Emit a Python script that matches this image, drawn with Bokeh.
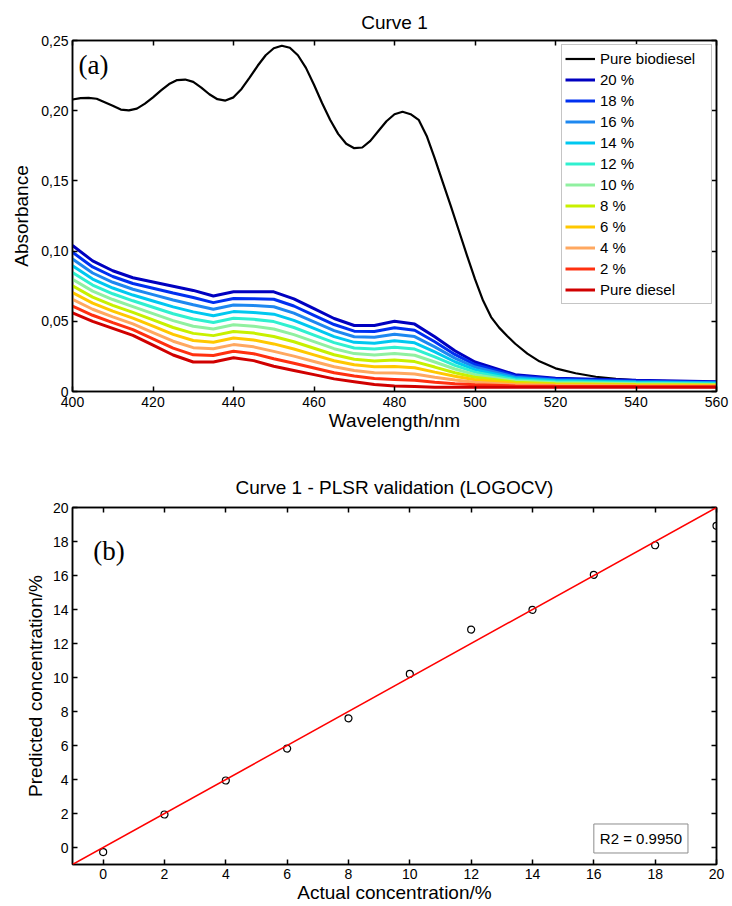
from bokeh.plotting import figure
from bokeh.models import LinearAxis, FixedTicker, Label, Slope, Range1d, CustomJSTickFormatter
from bokeh.layouts import column
from bokeh.embed import file_html
from bokeh.resources import INLINE

FONT = "Liberation Sans"

# ---------------- (a) spectra ----------------
bio_wl = [400, 402, 404, 406, 408, 410, 412, 414, 416, 418, 420, 422, 424, 426, 428, 430, 432, 434, 436,
          438, 440, 442, 444, 446, 448, 450, 452, 454, 456, 458, 460, 462, 464, 466, 468, 470, 472, 474,
          476, 478, 480, 482, 484, 486, 488, 490, 492, 494, 496, 498, 500, 502, 504, 506, 508, 510, 513,
          516, 520, 525, 530, 535, 540, 550, 560]
bio_abs = [0.208, 0.209, 0.2092, 0.2085, 0.206, 0.2035, 0.2008, 0.2002, 0.2015, 0.205, 0.2095, 0.2145,
           0.219, 0.2218, 0.2222, 0.2205, 0.2165, 0.2117, 0.2082, 0.2072, 0.2095, 0.2155, 0.2235, 0.232,
           0.2395, 0.2445, 0.2463, 0.2448, 0.2395, 0.2305, 0.2185, 0.2055, 0.1935, 0.1835, 0.1765, 0.1733,
           0.1738, 0.1785, 0.1855, 0.1925, 0.1975, 0.1993, 0.1975, 0.1935, 0.182, 0.166, 0.149, 0.132,
           0.1145, 0.097, 0.080, 0.0648, 0.053, 0.0455, 0.0395, 0.034, 0.027, 0.0215, 0.0165, 0.013,
           0.0105, 0.009, 0.008, 0.0068, 0.006]

mix_wl = [400, 405, 410, 415, 420, 425, 430, 435, 440, 445, 450, 455, 460, 465, 470, 475, 480, 485, 490,
          495, 500, 510, 520, 540, 560]
abs_20 = [0.104, 0.093, 0.086, 0.081, 0.078, 0.075, 0.072, 0.068, 0.071, 0.071, 0.071, 0.066, 0.059, 0.052,
          0.047, 0.047, 0.050, 0.048, 0.039, 0.029, 0.021, 0.012, 0.0095, 0.008, 0.007]
abs_18 = [0.0992, 0.0887, 0.0819, 0.0769, 0.0735, 0.0701, 0.0669, 0.0633, 0.0663, 0.0661, 0.0657, 0.0609,
          0.0543, 0.0477, 0.043, 0.0428, 0.0454, 0.0436, 0.0354, 0.0264, 0.0192, 0.0111, 0.0089, 0.0075, 0.0066]
abs_16 = [0.0944, 0.0844, 0.0778, 0.0728, 0.069, 0.0652, 0.0618, 0.0586, 0.0616, 0.0612, 0.0604, 0.0558,
          0.0496, 0.0434, 0.039, 0.0386, 0.0408, 0.0391, 0.0318, 0.0238, 0.0174, 0.0102, 0.0082, 0.007, 0.0062]
abs_14 = [0.0896, 0.0801, 0.0737, 0.0687, 0.0645, 0.0603, 0.0567, 0.0539, 0.0569, 0.0563, 0.0551, 0.0507,
          0.0449, 0.0391, 0.035, 0.0344, 0.0362, 0.0347, 0.0282, 0.0212, 0.0156, 0.0093, 0.0076, 0.0065, 0.0058]
abs_12 = [0.0848, 0.0758, 0.0696, 0.0646, 0.060, 0.0554, 0.0516, 0.0492, 0.0522, 0.0514, 0.0498, 0.0456,
          0.0402, 0.0348, 0.031, 0.0302, 0.0316, 0.0302, 0.0246, 0.0186, 0.0138, 0.0084, 0.0069, 0.006, 0.0054]
abs_10 = [0.080, 0.0715, 0.0655, 0.0605, 0.0555, 0.0505, 0.0465, 0.0445, 0.0475, 0.0465, 0.0445, 0.0405,
          0.0355, 0.0305, 0.027, 0.026, 0.027, 0.0258, 0.021, 0.016, 0.012, 0.0075, 0.0063, 0.0055, 0.005]
abs_8 = [0.0752, 0.0672, 0.0614, 0.0564, 0.051, 0.0456, 0.0414, 0.0398, 0.0428, 0.0416, 0.0392, 0.0354,
         0.0308, 0.0262, 0.023, 0.0218, 0.0224, 0.0213, 0.0174, 0.0134, 0.0102, 0.0066, 0.0056, 0.005, 0.0046]
abs_6 = [0.0704, 0.0629, 0.0573, 0.0523, 0.0465, 0.0407, 0.0363, 0.0351, 0.0381, 0.0367, 0.0339, 0.0303,
         0.0261, 0.0219, 0.019, 0.0176, 0.0178, 0.0169, 0.0138, 0.0108, 0.0084, 0.0057, 0.005, 0.0045, 0.0042]
abs_4 = [0.0656, 0.0586, 0.0532, 0.0482, 0.042, 0.0358, 0.0312, 0.0304, 0.0334, 0.0318, 0.0286, 0.0252,
         0.0214, 0.0176, 0.015, 0.0134, 0.0132, 0.0124, 0.0102, 0.0082, 0.0066, 0.0048, 0.0043, 0.004, 0.0038]
abs_2 = [0.0608, 0.0543, 0.0491, 0.0441, 0.0375, 0.0309, 0.0261, 0.0257, 0.0287, 0.0269, 0.0233, 0.0201,
         0.0167, 0.0133, 0.011, 0.0092, 0.0086, 0.008, 0.0066, 0.0056, 0.0048, 0.0039, 0.0037, 0.0035, 0.0034]
abs_0 = [0.056, 0.050, 0.045, 0.040, 0.033, 0.026, 0.021, 0.021, 0.024, 0.022, 0.018, 0.015, 0.012, 0.009,
         0.007, 0.005, 0.004, 0.0035, 0.003, 0.003, 0.003, 0.003, 0.003, 0.003, 0.003]

mix_labels = ["20 %", "18 %", "16 %", "14 %", "12 %", "10 %", "8 %", "6 %", "4 %", "2 %", "Pure diesel"]
mix_series = [abs_20, abs_18, abs_16, abs_14, abs_12, abs_10, abs_8, abs_6, abs_4, abs_2, abs_0]
mix_colors = ["#0000c0", "#0030f0", "#1e88f0", "#00c8f0", "#30f0d0", "#90f0a0", "#c8f000", "#ffc800",
              "#ffa860", "#ff3010", "#d00000"]

x1_ticks = [400, 420, 440, 460, 480, 500, 520, 540, 560]
y1_ticks = [0, 0.05, 0.10, 0.15, 0.20, 0.25]
y1_tick_labels = ["0", "0,05", "0,10", "0,15", "0,20", "0,25"]

# ---------------- (b) PLSR validation ----------------
actual = [0, 2, 4, 6, 8, 10, 12, 14, 16, 18, 20]
predicted = [-0.27, 1.94, 3.94, 5.82, 7.6, 10.21, 12.82, 13.98, 16.04, 17.78, 18.92]
x2_ticks = [0, 2, 4, 6, 8, 10, 12, 14, 16, 18, 20]
y2_ticks = [0, 2, 4, 6, 8, 10, 12, 14, 16, 18, 20]
r2_text = "R2 = 0.9950"


def style_axis(ax, ticks, show_labels=True):
    ax.ticker = FixedTicker(ticks=ticks, minor_ticks=[])
    ax.major_tick_in = 5
    ax.major_tick_out = 0
    ax.minor_tick_in = 0
    ax.minor_tick_out = 0
    ax.axis_line_color = "black"
    ax.axis_line_width = 1.5
    ax.major_tick_line_color = "black"
    ax.major_tick_line_width = 1.5
    ax.major_label_text_font = FONT
    ax.major_label_text_font_size = "14px"
    ax.major_label_text_color = "black"
    ax.axis_label_text_font = FONT
    ax.axis_label_text_font_size = "19px"
    ax.axis_label_text_font_style = "normal"
    ax.axis_label_text_color = "black"
    if not show_labels:
        ax.formatter = CustomJSTickFormatter(code="return '';")
        ax.major_label_standoff = 0
        ax.major_label_text_font_size = "1px"


def make_fig(xr, yr, fh, top, bottom, title, title_standoff):
    p = figure(frame_width=644, frame_height=fh, x_range=xr, y_range=yr,
               output_backend="svg", toolbar_location=None, title=title,
               min_border_left=72, min_border_right=16, min_border_top=top, min_border_bottom=bottom)
    p.title.align = "center"
    p.title.text_font = FONT
    p.title.text_font_size = "19px"
    p.title.text_font_style = "normal"
    p.title.text_color = "black"
    p.title.standoff = title_standoff
    p.xgrid.visible = False
    p.ygrid.visible = False
    p.outline_line_color = "black"
    p.outline_line_width = 1.5
    p.background_fill_color = "white"
    p.border_fill_color = "white"
    return p


# ---- figure 1
p1 = make_fig(Range1d(400, 560), Range1d(0, 0.25), 351, 40, 46, "Curve 1", 16)
p1.line(bio_wl, bio_abs, line_color="black", line_width=2.2, legend_label="Pure biodiesel")
for lab, ys, col in zip(mix_labels, mix_series, mix_colors):
    p1.line(mix_wl, ys, line_color=col, line_width=3, legend_label=lab)

style_axis(p1.below[0], x1_ticks)
style_axis(p1.left[0], y1_ticks)
p1.left[0].major_label_overrides = dict(zip(y1_ticks, y1_tick_labels))
p1.below[0].axis_label = "Wavelength/nm"
p1.left[0].axis_label = "Absorbance"
p1.below[0].major_label_standoff = 5
p1.left[0].major_label_standoff = 4
p1.below[0].axis_label_standoff = 0
p1.left[0].axis_label_standoff = 6
ax_top1 = LinearAxis()
ax_right1 = LinearAxis()
style_axis(ax_top1, x1_ticks, show_labels=False)
style_axis(ax_right1, y1_ticks, show_labels=False)
p1.add_layout(ax_top1, "above")
p1.add_layout(ax_right1, "right")

lg = p1.legend[0]
lg.location = "top_right"
lg.margin = 4
lg.padding = 3
lg.spacing = 0
lg.label_height = 21
lg.glyph_height = 21
lg.glyph_width = 30
lg.label_standoff = 5
lg.label_width = 108
lg.label_text_font = FONT
lg.label_text_font_size = "15px"
lg.label_text_color = "black"
lg.border_line_color = "#8c8c8c"
lg.border_line_width = 1
lg.background_fill_alpha = 1

p1.add_layout(Label(x=401.5, y=0.243, text="(a)", text_font="Liberation Serif", text_color="black",
                    text_font_size="27px", text_baseline="top", text_align="left"))

# ---- figure 2
p2 = make_fig(Range1d(-1, 20), Range1d(-1, 20), 357, 70, 42, "Curve 1 - PLSR validation (LOGOCV)", 20)
p2.add_layout(Slope(gradient=1, y_intercept=0, line_color="red", line_width=1.5))
p2.scatter(actual, predicted, marker="circle", size=7, fill_color=None, line_color="black", line_width=1.2)

style_axis(p2.below[0], x2_ticks)
style_axis(p2.left[0], y2_ticks)
p2.below[0].axis_label = "Actual concentration/%"
p2.left[0].axis_label = "Predicted concentration/%"
p2.below[0].major_label_standoff = 4
p2.left[0].major_label_standoff = 4
p2.below[0].axis_label_standoff = 0
p2.left[0].axis_label_standoff = 4
ax_top2 = LinearAxis()
ax_right2 = LinearAxis()
style_axis(ax_top2, x2_ticks, show_labels=False)
style_axis(ax_right2, y2_ticks, show_labels=False)
p2.add_layout(ax_top2, "above")
p2.add_layout(ax_right2, "right")

p2.add_layout(Label(x=-0.32, y=18.35, text="(b)", text_font="Liberation Serif", text_color="black",
                    text_font_size="27px", text_baseline="top", text_align="left"))
p2.add_layout(Label(x=16.0, y=0.53, text=r2_text, text_font=FONT, text_font_size="15px",
                    text_color="black", text_baseline="alphabetic", text_align="left",
                    border_line_color="#8c8c8c", background_fill_color="white", padding=6))

layout = column(p1, p2, spacing=0)
open("out.html", "w").write(file_html(layout, INLINE))
